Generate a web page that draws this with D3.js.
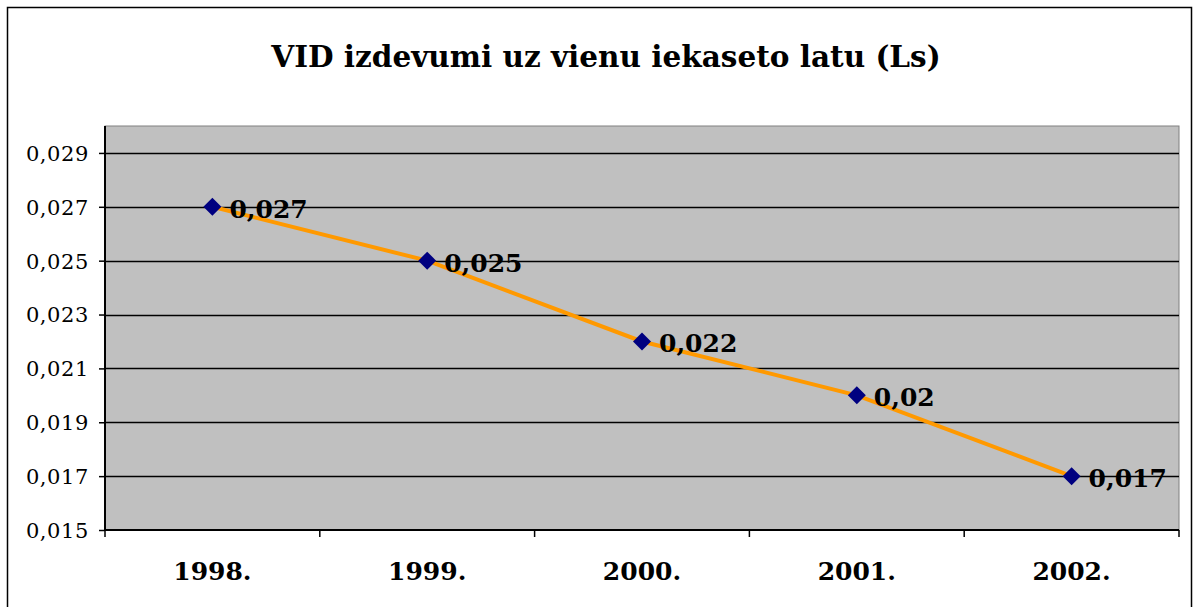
<html>
<head>
<script src="https://d3js.org/d3.v7.min.js"></script>
<style>
  body { margin: 0; background: #fff; }
  .axis text { font-family: "DejaVu Serif", serif; }
</style>
</head>
<body>
<svg id="chart" width="1199" height="607"></svg>
<script>
const title = "VID izdevumi uz vienu iekaseto latu (Ls)";
const years = ["1998.", "1999.", "2000.", "2001.", "2002."];
const values = [0.027, 0.025, 0.022, 0.020, 0.017];
const valueLabels = ["0,027", "0,025", "0,022", "0,02", "0,017"];
const yTicks = [0.015, 0.017, 0.019, 0.021, 0.023, 0.025, 0.027, 0.029];

const svg = d3.select("svg#chart");
const plot = { left: 105, top: 126, right: 1179, bottom: 530 };

// outer frame
svg.append("rect")
  .attr("x", 7.5).attr("y", 7.5)
  .attr("width", 1184).attr("height", 605)
  .attr("fill", "#fff").attr("stroke", "#000").attr("stroke-width", 1.5);

svg.append("text")
  .attr("x", 606).attr("y", 67)
  .attr("text-anchor", "middle")
  .attr("font-family", "'DejaVu Serif', serif")
  .attr("font-weight", "bold")
  .attr("font-size", 29.5)
  .text(title);

const x = d3.scaleBand().domain(years).range([plot.left, plot.right]);
const y = d3.scaleLinear().domain([0.015, 0.030]).range([plot.bottom, plot.top]);

// plot area
svg.append("rect")
  .attr("x", plot.left).attr("y", plot.top)
  .attr("width", plot.right - plot.left).attr("height", plot.bottom - plot.top)
  .attr("fill", "#c0c0c0").attr("stroke", "#808080").attr("stroke-width", 1);

// gridlines
svg.append("g")
  .selectAll("line").data(yTicks.slice(1))
  .join("line")
  .attr("x1", plot.left).attr("x2", plot.right)
  .attr("y1", d => Math.round(y(d)) + 0.5).attr("y2", d => Math.round(y(d)) + 0.5)
  .attr("stroke", "#000").attr("stroke-width", 1.5);

// y axis
const yAxis = svg.append("g").attr("class", "axis")
  .attr("transform", `translate(${plot.left},0)`)
  .call(d3.axisLeft(y).tickValues(yTicks).tickSize(6).tickPadding(10)
    .tickFormat(d => d3.format(".3f")(d).replace(".", ",")));
yAxis.attr("font-size", null);
yAxis.select(".domain").attr("stroke", "#000").attr("stroke-width", 2)
  .attr("d", `M0,${plot.top}V${plot.bottom}`);
yAxis.selectAll("line").attr("stroke", "#000").attr("stroke-width", 1.5);
yAxis.selectAll("text").style("font-size", "21px").style("letter-spacing", "0.6px")
  .attr("fill", "#000").attr("dy", "0.35em");

// x axis
const xAxis = svg.append("g").attr("class", "axis")
  .attr("transform", `translate(0,${plot.bottom})`);
xAxis.append("line")
  .attr("x1", plot.left).attr("x2", plot.right)
  .attr("stroke", "#000").attr("stroke-width", 2);
const bounds = years.map(d => x(d)).concat([x(years[years.length - 1]) + x.bandwidth()]);
xAxis.selectAll("line.tick").data(bounds)
  .join("line").attr("class", "tick")
  .attr("x1", d => d).attr("x2", d => d)
  .attr("y1", 0).attr("y2", 7)
  .attr("stroke", "#000").attr("stroke-width", 1.5);
xAxis.selectAll("text").data(years)
  .join("text")
  .attr("x", d => x(d) + x.bandwidth() / 2)
  .attr("y", 50)
  .attr("text-anchor", "middle")
  .attr("font-weight", "bold")
  .style("font-size", "25px")
  .text(d => d);

// series
const data = years.map((yr, i) => ({ yr, v: values[i], label: valueLabels[i] }));
const cx = d => x(d.yr) + x.bandwidth() / 2;

svg.append("path").datum(data)
  .attr("fill", "none")
  .attr("stroke", "#ff9900")
  .attr("stroke-width", 4)
  .attr("d", d3.line().x(cx).y(d => y(d.v)));

svg.selectAll("path.marker").data(data)
  .join("path").attr("class", "marker")
  .attr("transform", d => `translate(${cx(d)},${y(d.v)})`)
  .attr("d", "M0,-9L9,0L0,9L-9,0Z")
  .attr("fill", "#000080");

svg.selectAll("text.val").data(data)
  .join("text").attr("class", "val")
  .attr("x", d => cx(d) + 17)
  .attr("y", d => y(d.v) + 11)
  .attr("font-family", "'DejaVu Serif', serif")
  .attr("font-weight", "bold")
  .attr("font-size", 25)
  .text(d => d.label);
</script>
</body>
</html>
